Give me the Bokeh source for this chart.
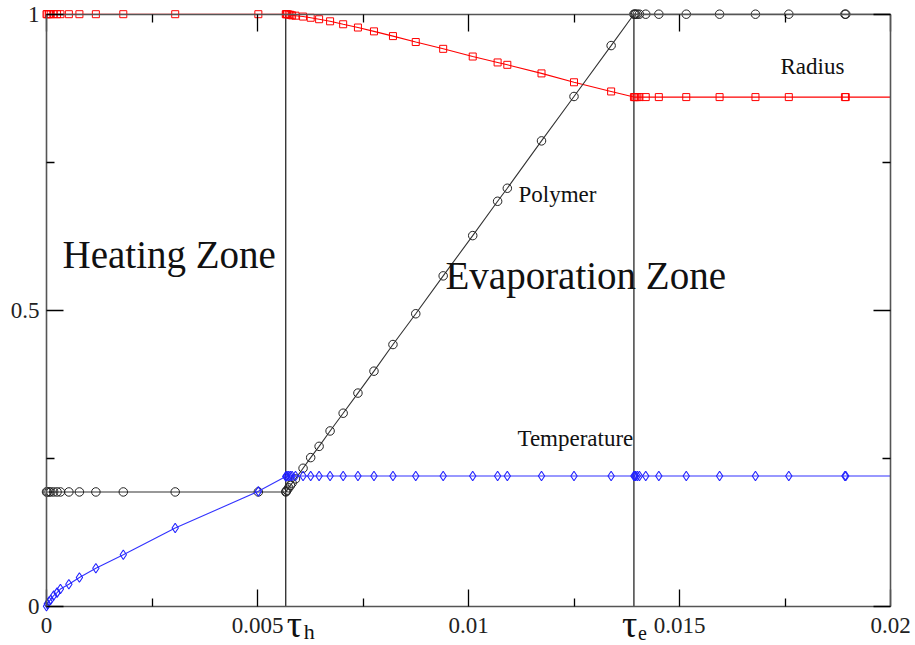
from bokeh.plotting import figure
from bokeh.models import (Range1d, FixedTicker, LinearAxis, Label,
                          CustomJSTickFormatter, ColumnDataSource)
from bokeh.embed import file_html
from bokeh.resources import INLINE

# ---------------- data ----------------
t_heat = [0.0, 0.00002, 0.00006, 0.0001, 0.00017, 0.00025, 0.00033, 0.00053,
          0.00078, 0.00117, 0.00182, 0.00305, 0.00502]
radius_heat = [1.0, 1.0, 1.0, 1.0, 1.0, 1.0, 1.0, 1.0, 1.0, 1.0, 1.0, 1.0, 1.0]
polymer_heat = [0.193, 0.193, 0.193, 0.193, 0.193, 0.193, 0.193, 0.193, 0.193,
                0.193, 0.193, 0.193, 0.193]
temp_heat = [0.0, 0.004, 0.008, 0.011, 0.018, 0.023, 0.029, 0.037, 0.0485,
             0.064, 0.087, 0.132, 0.194]

t_evap = [0.00567, 0.00568, 0.0057, 0.00574, 0.00578, 0.00582, 0.0059, 0.00608,
          0.00626, 0.00646, 0.00672, 0.00703, 0.00738, 0.00776, 0.00821, 0.00875,
          0.0094, 0.0101, 0.01069, 0.01092, 0.01173, 0.0125, 0.01338, 0.01392]
radius_evap = [1.0, 1.0, 1.0, 0.9995, 0.999, 0.998, 0.9975, 0.996, 0.994, 0.9915,
               0.988, 0.983, 0.9775, 0.971, 0.963, 0.953, 0.9415, 0.9285, 0.9185,
               0.9145, 0.900, 0.885, 0.8695, 0.86]
polymer_evap = [0.193, 0.194, 0.196, 0.200, 0.204, 0.208, 0.215, 0.233, 0.251,
                0.270, 0.296, 0.326, 0.360, 0.397, 0.442, 0.494, 0.558, 0.626,
                0.684, 0.706, 0.786, 0.861, 0.947, 1.0]
temp_evap = [0.219, 0.2195, 0.22, 0.22, 0.22, 0.22, 0.22, 0.22, 0.22, 0.22, 0.22,
             0.22, 0.22, 0.22, 0.22, 0.22, 0.22, 0.22, 0.22, 0.22, 0.22, 0.22,
             0.22, 0.22]

t_post = [0.01394, 0.01396, 0.014, 0.01405, 0.0142, 0.01451, 0.01516, 0.01595,
          0.0168, 0.01759, 0.01892, 0.01894]
radius_post = [0.86, 0.86, 0.86, 0.86, 0.86, 0.86, 0.86, 0.86, 0.86, 0.86, 0.86,
               0.86]
polymer_post = [1.0, 1.0, 1.0, 1.0, 1.0, 1.0, 1.0, 1.0, 1.0, 1.0, 1.0, 1.0]
temp_post = [0.22, 0.22, 0.22, 0.22, 0.22, 0.22, 0.22, 0.22, 0.22, 0.22, 0.22,
             0.22]

# the curves run on (without markers) to the right edge of the axes
t_end = 0.02
radius_end = 0.86
polymer_end = 1.0
temp_end = 0.22

tau_h = 0.00567
tau_e = 0.01392

x_ticks = [0.0, 0.005, 0.01, 0.015, 0.02]
x_minor = [0.0025, 0.0075, 0.0125, 0.0175]
y_ticks = [0.0, 0.5, 1.0]
y_minor = [0.25, 0.75]
x_lo, x_hi = 0.0, 0.02
y_lo, y_hi = 0.0, 1.0

# ---------------- figure ----------------
SERIF = "Liberation Serif"
W, H = 915, 645
# axes box inside the canvas (pixels): left 46, right 890, top 13.7, bottom 605.7
kx = (x_hi - x_lo) / 844.0
ky = (y_hi - y_lo) / 592.0

p = figure(width=W, height=H,
           x_range=Range1d(x_lo - 46 * kx, x_lo + (W - 46) * kx),
           y_range=Range1d(y_lo - (H - 605.7) * ky, y_lo + 605.7 * ky),
           output_backend="svg", toolbar_location=None,
           min_border_left=0, min_border_right=0,
           min_border_top=0, min_border_bottom=0)
p.outline_line_color = None
p.grid.visible = False
p.background_fill_color = "white"
p.border_fill_color = "white"

fmt = CustomJSTickFormatter(code="return tick.toString();")
blank = CustomJSTickFormatter(code="return '';")

def style_axis(ax, ticks, minor, bounds, loc, labels):
    ax.ticker = FixedTicker(ticks=ticks, minor_ticks=minor)
    ax.bounds = bounds
    ax.fixed_location = loc
    ax.axis_line_color = "#555555"
    ax.axis_line_width = 1.6
    ax.major_tick_in = 17
    ax.major_tick_out = 0
    ax.minor_tick_in = 8
    ax.minor_tick_out = 0
    ax.major_tick_line_color = "black"
    ax.minor_tick_line_color = "black"
    ax.major_tick_line_width = 1.3
    ax.minor_tick_line_width = 1.3
    if labels:
        ax.formatter = fmt
        ax.major_label_text_font = SERIF
        ax.major_label_text_font_size = "23px"
        ax.major_label_text_color = "#222222"
    else:
        ax.formatter = blank
        ax.major_label_text_font_size = "0px"
        ax.major_label_standoff = 0

xb = p.xaxis[0]
style_axis(xb, x_ticks, x_minor, (x_lo, x_hi), y_lo, True)
xb.major_label_standoff = 12
yl = p.yaxis[0]
style_axis(yl, y_ticks, y_minor, (y_lo, y_hi), x_lo, True)
yl.major_label_standoff = 7
yl.major_label_orientation = "horizontal"

xt = LinearAxis()
style_axis(xt, x_ticks, x_minor, (x_lo, x_hi), y_hi, False)
p.add_layout(xt, "above")
yr = LinearAxis()
style_axis(yr, y_ticks, y_minor, (y_lo, y_hi), x_hi, False)
p.add_layout(yr, "right")

# zone boundaries
p.segment(x0=[tau_h, tau_e], y0=[y_lo, y_lo], x1=[tau_h, tau_e], y1=[y_hi, y_hi],
          line_color="black", line_width=1.1)

t_all = t_heat + t_evap + t_post
radius_all = radius_heat + radius_evap + radius_post
polymer_all = polymer_heat + polymer_evap + polymer_post
temp_all = temp_heat + temp_evap + temp_post

pts = ColumnDataSource(dict(t=t_all, radius=radius_all, polymer=polymer_all,
                            temp=temp_all))
lines = ColumnDataSource(dict(t=t_all + [t_end], radius=radius_all + [radius_end],
                              polymer=polymer_all + [polymer_end],
                              temp=temp_all + [temp_end]))

p.line("t", "radius", source=lines, line_color="#ff0000", line_width=1.1)
p.scatter("t", "radius", source=pts, marker="square", size=7,
          line_color="#ff0000", fill_color=None, line_width=1)

p.line("t", "polymer", source=lines, line_color="#333333", line_width=1.1)
p.scatter("t", "polymer", source=pts, marker="circle", size=8.5,
          line_color="#222222", fill_color=None, line_width=1)

p.line("t", "temp", source=lines, line_color="#3333ff", line_width=1.1)
p.scatter("t", "temp", source=pts, marker="diamond", size=9.5,
          line_color="#2222ff", fill_color=None, line_width=1.1)

# texts
def lab(x, y, text, size, xoff=0):
    p.add_layout(Label(x=x, y=y, x_offset=xoff, text=text, text_font=SERIF,
                       text_font_size=size, text_color="#111111",
                       text_baseline="alphabetic", text_align="left"))

lab(0.00038, 0.5946, "Heating Zone", "39px")
lab(0.009455, 0.5591, "Evaporation Zone", "39px")
lab(0.011185, 0.6959, "Polymer", "23px")
lab(0.01116, 0.2838, "Temperature", "23px")
lab(0.017393, 0.9122, "Radius", "23px")

lab(tau_h, -0.0297, "τ", "38px", xoff=1)
lab(tau_h, -0.0427, "h", "22px", xoff=18)
lab(tau_e, -0.0297, "τ", "38px", xoff=-12)
lab(tau_e, -0.0449, "e", "20px", xoff=4)

open("out.html", "w").write(file_html(p, INLINE))
